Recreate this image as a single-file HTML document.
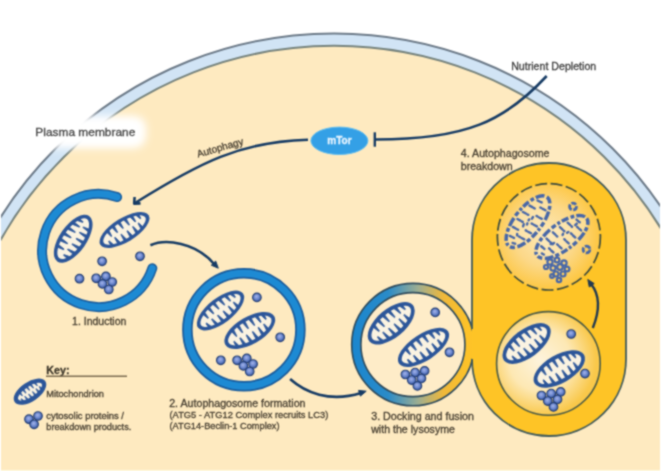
<!DOCTYPE html>
<html><head><meta charset="utf-8">
<style>
html,body{margin:0;padding:0;background:#fff;}
body{width:663px;height:471px;overflow:hidden;}
svg{display:block;}
text{font-family:"Liberation Sans",sans-serif;stroke:currentColor;stroke-width:0.3px;}
</style></head>
<body>
<svg width="663" height="471" viewBox="0 0 663 471">
<defs>
  <radialGradient id="dotg" cx="45%" cy="40%" r="60%">
    <stop offset="0" stop-color="#a3b3ea"/>
    <stop offset="0.55" stop-color="#6a86cc"/>
    <stop offset="1" stop-color="#3a58a0"/>
  </radialGradient>
  <g id="dot"><circle r="4.3" fill="url(#dotg)" stroke="#203c74" stroke-width="1.1"/></g>
  <g id="c5">
    <use href="#dot" x="0" y="0"/><use href="#dot" x="9.7" y="-1.9"/>
    <use href="#dot" x="6.3" y="5.6"/><use href="#dot" x="16" y="3.7"/>
    <use href="#dot" x="12.6" y="11.2"/>
  </g>
  <g id="c6">
    <use href="#dot" x="0" y="0"/><use href="#dot" x="9.7" y="-1.9"/><use href="#dot" x="19.2" y="-3.6"/>
    <use href="#dot" x="6.3" y="5.6"/><use href="#dot" x="16" y="3.9"/>
    <use href="#dot" x="12" y="11.4"/>
  </g>
  <g id="mito">
    <ellipse rx="28.3" ry="12.2" fill="#2c5699"/>
    <ellipse rx="24.4" ry="8.8" fill="#faf3e2"/>
    <path fill="#2c5699" stroke="#2c5699" stroke-width="0.7" stroke-linejoin="round" d="M-16.5,-7.9 L-13.5,-7.9 L-14.0,-1.4 L-14.8,-1.4Z M-9.5,-9.3 L-6.5,-9.3 L-7.0,-1.7 L-7.8,-1.7Z M-2.5,-9.8 L0.5,-9.8 L0.0,-2.2 L-0.8,-2.2Z M4.5,-9.5 L7.5,-9.5 L7.0,-1.9 L6.2,-1.9Z M11.5,-8.4 L14.5,-8.4 L14.0,-1.4 L13.2,-1.4Z M17.5,-6.5 L20.5,-6.5 L20.0,-1.4 L19.2,-1.4Z M-20.0,6.7 L-17.0,6.7 L-18.7,1.4 L-19.5,1.4Z M-13.0,8.8 L-10.0,8.8 L-11.7,1.4 L-12.5,1.4Z M-6.0,9.6 L-3.0,9.6 L-4.7,2.0 L-5.5,2.0Z M1.0,9.8 L4.0,9.8 L2.3,2.2 L1.5,2.2Z M8.0,9.1 L11.0,9.1 L9.3,1.5 L8.5,1.5Z M14.5,7.6 L17.5,7.6 L15.8,1.4 L15.0,1.4Z"/>
  </g>
  <linearGradient id="dockg" x1="351" y1="0" x2="474" y2="0" gradientUnits="userSpaceOnUse">
    <stop offset="0" stop-color="#1a86cf"/>
    <stop offset="0.3" stop-color="#2a8bc8"/>
    <stop offset="0.55" stop-color="#9fae90"/>
    <stop offset="0.75" stop-color="#efb83a"/>
    <stop offset="0.95" stop-color="#fdc228"/>
    <stop offset="1" stop-color="#fec426"/>
  </linearGradient>
  <radialGradient id="lowg" cx="540" cy="360" r="56" gradientUnits="userSpaceOnUse">
    <stop offset="0" stop-color="#fdf3dc"/>
    <stop offset="0.55" stop-color="#fde8b4"/>
    <stop offset="1" stop-color="#f9c84a"/>
  </radialGradient>
  <radialGradient id="upg" cx="545" cy="235" r="56" gradientUnits="userSpaceOnUse">
    <stop offset="0" stop-color="#fde9b8"/>
    <stop offset="0.55" stop-color="#fcd888"/>
    <stop offset="1" stop-color="#fdc63e"/>
  </radialGradient>
  <filter id="soft" x="0" y="0" width="663" height="471" filterUnits="userSpaceOnUse" color-interpolation-filters="sRGB"><feConvolveMatrix order="3" kernelMatrix="1 2 1 2 6 2 1 2 1" divisor="18" edgeMode="duplicate"/></filter>
  <filter id="blur4" x="-30%" y="-60%" width="160%" height="220%"><feGaussianBlur stdDeviation="4"/></filter>
  <clipPath id="frame"><rect x="1" y="0" width="659" height="470"/></clipPath>
  <clipPath id="leftof472"><rect x="0" y="0" width="472" height="471"/></clipPath>
</defs>
<g filter="url(#soft)">

<rect width="663" height="471" fill="#fff"/>
<!-- cell -->
<g clip-path="url(#frame)">
  <ellipse cx="334.1" cy="425.2" rx="393.5" ry="391.7" fill="#d1e4f5" stroke="#6c7a88" stroke-width="2"/>
  <ellipse cx="334.1" cy="425.2" rx="382.1" ry="379.4" fill="#feeac0" stroke="#75827c" stroke-width="2"/>
</g>

<rect x="1" y="470" width="659" height="1" fill="#fffbe4"/>
<!-- plasma membrane label halo -->
<rect x="26" y="116" width="120" height="32" rx="12" fill="#fff" filter="url(#blur4)"/>
<rect x="33" y="122" width="106" height="20" rx="8" fill="#fff" filter="url(#blur4)"/>
<text style="color:#444" x="35.3" y="135.9" font-size="11.8" fill="#444" textLength="100" lengthAdjust="spacingAndGlyphs">Plasma membrane</text>

<!-- nutrient depletion -->
<text style="color:#3c3c3c" x="511.2" y="70.2" font-size="10.6" fill="#3c3c3c" textLength="85" lengthAdjust="spacingAndGlyphs">Nutrient Depletion</text>
<path d="M546.7,76 C505,121 466,139.5 376,139.5" fill="none" stroke="#163b64" stroke-width="2.6"/>
<line x1="374.8" y1="132.3" x2="374.8" y2="146.7" stroke="#163b64" stroke-width="2.4"/>

<!-- mTor -->
<ellipse cx="339.4" cy="140.8" rx="28.5" ry="13.7" fill="#34a0e6" stroke="#5cbcf2" stroke-width="1"/>
<text style="color:#eaf5ff" x="339.4" y="144" font-size="10" font-weight="bold" fill="#eaf5ff" text-anchor="middle">mTor</text>

<!-- autophagy arrow -->
<path d="M308,139.7 C240.7,141.5 199.8,162.5 135,203" fill="none" stroke="#163b64" stroke-width="2.6"/>
<path d="M134.6,197 L134.2,203.6 L140.5,203.4" fill="none" stroke="#163b64" stroke-width="2.6" stroke-linejoin="round"/>
<text style="color:#463e30" transform="translate(198,157.5) rotate(-16)" font-size="10" fill="#463e30">Autophagy</text>

<!-- 1. induction -->
<path d="M117.1,197.1 A56.5,56.5 0 1 0 152.3,268.3" fill="none" stroke="#1a5c9c" stroke-width="10" stroke-linecap="round"/>
<path d="M117.1,197.1 A56.5,56.5 0 1 0 152.3,268.3" fill="none" stroke="#1d8ad3" stroke-width="7" stroke-linecap="round"/>
<use href="#mito" transform="translate(73.2,238.7) rotate(-55) scale(0.98,1.1)"/>
<use href="#mito" transform="translate(124.5,230) rotate(-31.5) scale(1,0.98)"/>
<use href="#dot" x="102.1" y="261.3"/>
<use href="#dot" x="140" y="256.3"/>
<use href="#dot" x="79.5" y="278.7"/>
<use href="#c5" x="96.2" y="278.3"/>
<text style="color:#463e30" x="72.1" y="325.4" font-size="10.5" fill="#463e30">1. Induction</text>

<!-- arrow 1->2 -->
<path d="M150.4,245.3 C165,238.5 196,242 214.5,264.5" fill="none" stroke="#163b64" stroke-width="2.6"/>
<path d="M218.3,268.2 L211.3,265.2 L215.7,261.1 Z" fill="#163b64" stroke="#163b64" stroke-width="1" stroke-linejoin="round"/>

<!-- 2. autophagosome -->
<circle cx="243.9" cy="329.8" r="56.5" fill="none" stroke="#1a5c9c" stroke-width="10.5"/>
<circle cx="243.9" cy="329.8" r="56.5" fill="none" stroke="#1d8ad3" stroke-width="7"/>
<use href="#mito" transform="translate(220.5,310.5) rotate(-37.7) scale(1,1.03)"/>
<use href="#mito" transform="translate(249.8,330.5) rotate(-30.2) scale(1,1.12)"/>
<use href="#dot" x="256.9" y="297.4"/>
<use href="#dot" x="280.2" y="337.3"/>
<use href="#dot" x="220.8" y="360.3"/>
<use href="#c5" x="237.1" y="360.3"/>
<text style="color:#463e30" x="169.2" y="406.8" font-size="10.6" fill="#463e30" textLength="136.3" lengthAdjust="spacingAndGlyphs">2. Autophagosome formation</text>
<text style="color:#463e30" x="169.5" y="417.9" font-size="9.3" fill="#463e30" textLength="158.8" lengthAdjust="spacingAndGlyphs">(ATG5 - ATG12 Complex recruits LC3)</text>
<text style="color:#463e30" x="169.5" y="429" font-size="9.2" fill="#463e30" textLength="110" lengthAdjust="spacingAndGlyphs">(ATG14-Beclin-1 Complex)</text>

<!-- arrow 2->3 -->
<path d="M290.1,379 C305,392.3 329.2,402.8 361,393" fill="none" stroke="#163b64" stroke-width="2.6"/>
<path d="M366.2,391.2 L360.4,396.1 L358.6,390.4 Z" fill="#163b64" stroke="#163b64" stroke-width="1" stroke-linejoin="round"/>

<!-- lysosome -->
<path d="M472,240 A77,77 0 0 1 626,240 L626,359 A77,77 0 0 1 472,359 Z" fill="#fec426"/>

<!-- 3. docking -->
<circle cx="412.9" cy="344.6" r="56.6" fill="#feecc8"/>
<circle cx="412.9" cy="344.6" r="56.6" fill="none" stroke="url(#dockg)" stroke-width="9"/>
<circle cx="412.9" cy="344.6" r="52" fill="none" stroke="#2d4a5c" stroke-width="1.6"/>
<circle cx="412.9" cy="344.6" r="61.2" fill="none" stroke="#2d4a5c" stroke-width="1.6" clip-path="url(#leftof472)"/>
<path d="M472,359 L472,359 A77,77 0 0 0 626,359 L626,240 A77,77 0 0 0 472,240 L472,329" fill="none" stroke="#405a5a" stroke-width="1.8"/>
<use href="#mito" transform="translate(391.2,323.3) rotate(-40) scale(1,1.17)"/>
<use href="#mito" transform="translate(423.5,347.4) rotate(-33.4) scale(1.04,1.08)"/>
<use href="#dot" x="435.2" y="312.4"/>
<use href="#dot" x="449.5" y="352.3"/>
<use href="#c6" x="405.4" y="374.5"/>
<text style="color:#463e30" x="371.2" y="420.4" font-size="10.65" fill="#463e30" textLength="102.8" lengthAdjust="spacingAndGlyphs">3. Docking and fusion</text>
<text style="color:#463e30" x="371.2" y="432.5" font-size="10.6" fill="#463e30" textLength="83.8" lengthAdjust="spacingAndGlyphs">with the lysosyme</text>

<!-- lower circle in lysosome -->
<circle cx="548.4" cy="363.4" r="51.8" fill="url(#lowg)" stroke="#4a5a45" stroke-width="1.6"/>
<use href="#mito" transform="translate(526.6,343.5) rotate(-37) scale(1,1.15)"/>
<use href="#mito" transform="translate(559.3,369) rotate(-30) scale(1.01,1.15)"/>
<use href="#dot" x="571.2" y="334"/>
<use href="#dot" x="585" y="373.6"/>
<use href="#c6" x="541.5" y="395.5"/>

<!-- upper dashed circle -->
<ellipse cx="548.9" cy="236.8" rx="51.5" ry="53.2" fill="url(#upg)" stroke="#3c4a3c" stroke-width="1.7" stroke-dasharray="12 3.5"/>
<g fill="none" stroke="#4767a8" stroke-linecap="round">
  <ellipse rx="31" ry="13.5" transform="translate(528,221.6) rotate(-52)" fill="#fdeec8" fill-opacity="0.45" stroke-width="3.5" stroke-linecap="butt" stroke-dasharray="7 2.4 4 2 9 2.6 5 2.2 3 2"/>
  <path transform="translate(528,221.6) rotate(-52)" stroke-width="2.4" d="M-22.5,-5.5 L-21.9,-3.0 M-21.7,-1.7 L-21.5,-1.0 M-25.3,3.5 L-25.9,2.2 M-26.1,1.5 L-26.3,1.0 M-13.5,-8.7 L-12.9,-5.4 M-12.7,-3.6 L-12.5,-2.7 M-16.3,8.0 L-16.9,5.0 M-17.1,3.2 L-17.3,2.0 M-4.5,-9.9 L-3.9,-6.6 M-3.7,-4.8 L-3.5,-3.9 M-7.3,9.6 L-7.9,6.6 M-8.1,4.8 L-8.3,3.6 M4.5,-9.9 L5.1,-6.6 M5.3,-4.8 L5.5,-3.9 M1.7,10.0 L1.1,7.0 M0.9,5.2 L0.7,4.0 M13.5,-8.7 L14.1,-5.4 M14.3,-3.6 L14.5,-2.7 M10.7,9.2 L10.1,6.2 M9.9,4.4 L9.7,3.2 M22.5,-5.5 L23.1,-3.0 M23.3,-1.7 L23.5,-1.0 M19.7,6.8 L19.1,3.9 M18.9,2.2 L18.7,1.0 M-6.7,-1.0 l2.0,-0.7 M1.4,-0.4 l1.1,0.0 M-17.5,-0.2 l1.1,-0.7 M-2.9,1.0 l1.2,-0.4 M4.8,1.3 l1.9,-0.2"/>
  <ellipse rx="31" ry="13.2" transform="translate(561.9,237) rotate(-37)" fill="#fdeec8" fill-opacity="0.45" stroke-width="3.5" stroke-linecap="butt" stroke-dasharray="7 2.4 4 2 9 2.6 5 2.2 3 2"/>
  <path transform="translate(561.9,237) rotate(-37)" stroke-width="2.4" d="M-22.1,-5.1 L-21.5,-2.8 M-21.3,-1.6 L-21.1,-1.0 M-24.9,3.2 L-25.5,2.1 M-25.7,1.4 L-25.9,1.0 M-13.2,-8.0 L-12.7,-4.7 M-12.4,-2.9 L-12.2,-2.0 M-16.1,7.3 L-16.7,4.3 M-16.9,2.5 L-17.1,1.3 M-4.4,-9.1 L-3.8,-5.8 M-3.6,-4.0 L-3.4,-3.1 M-7.2,8.9 L-7.8,5.9 M-8.0,4.1 L-8.2,2.9 M4.4,-9.1 L5.0,-5.8 M5.2,-4.0 L5.4,-3.1 M1.6,9.2 L1.0,6.2 M0.8,4.4 L0.6,3.2 M13.2,-8.0 L13.8,-4.7 M14.1,-2.9 L14.2,-2.0 M10.4,8.5 L9.8,5.5 M9.6,3.7 L9.4,2.5 M22.1,-5.1 L22.7,-2.8 M22.9,-1.6 L23.1,-1.0 M19.3,6.3 L18.7,3.7 M18.5,2.1 L18.3,1.0 M17.7,-1.4 l2.3,-0.3 M-13.2,-1.1 l1.5,0.5 M-11.8,0.2 l2.0,-0.2 M1.8,-1.3 l1.1,-0.5 M6.7,-0.2 l1.5,0.1"/>
  <circle cx="573" cy="206.5" r="3.4" stroke-width="2.8" stroke-linecap="butt" stroke-dasharray="5 1.5 6 1.5"/>
  <circle cx="586.5" cy="249.5" r="3.4" stroke-width="2.8" stroke-linecap="butt" stroke-dasharray="6 1.5 5 1.5"/>
  <g stroke-width="2.2">
  <circle cx="550" cy="262" r="2.6"/><circle cx="557" cy="260" r="2.4"/><circle cx="564" cy="263" r="2.6"/>
  <circle cx="553" cy="268" r="2.6"/><circle cx="560" cy="267" r="2.8"/><circle cx="567" cy="269" r="2.4"/>
  <circle cx="556" cy="274" r="2.5"/><circle cx="563" cy="274" r="2.5"/><circle cx="559" cy="280" r="2.2"/>
  <circle cx="546" cy="267" r="2"/><circle cx="552" cy="276" r="1.8"/>
  </g>
</g>

<!-- arrow lower->upper -->
<path d="M592.8,328 C600,310 600,295 591,284" fill="none" stroke="#223a50" stroke-width="2.4"/>
<path d="M587.8,279.5 L594.2,283.6 L589.3,287.0 Z" fill="#223a50" stroke="#223a50" stroke-width="1" stroke-linejoin="round"/>

<text style="color:#463e30" x="460.8" y="157.4" font-size="10.6" fill="#463e30" textLength="88.7" lengthAdjust="spacingAndGlyphs">4. Autophagosome</text>
<text style="color:#463e30" x="460.8" y="169.8" font-size="10.6" fill="#463e30">breakdown</text>

<!-- key -->
<text style="color:#3a3428" x="46.3" y="373.6" font-size="10.7" font-weight="bold" fill="#3a3428">Key:</text>
<line x1="46" y1="376.3" x2="127" y2="376.3" stroke="#7a6a50" stroke-width="1.5"/>
<g transform="translate(30,391.7) rotate(-34)"><ellipse rx="18.5" ry="9.7" fill="#2c5699"/><ellipse rx="14" ry="5.2" fill="#faf3e2"/><path fill="#2c5699" stroke="#2c5699" stroke-width="0.5" d="M-10.0,-4.8 L-8.0,-4.8 L-8.4,-0.9 L-8.9,-0.9Z M-5.5,-5.7 L-3.5,-5.7 L-3.9,-1.1 L-4.4,-1.1Z M-1.0,-6.0 L1.0,-6.0 L0.6,-1.4 L0.1,-1.4Z M3.5,-5.7 L5.5,-5.7 L5.1,-1.1 L4.6,-1.1Z M8.0,-4.8 L10.0,-4.8 L9.6,-0.9 L9.1,-0.9Z M-12.0,4.0 L-10.0,4.0 L-11.1,0.9 L-11.6,0.9Z M-7.5,5.4 L-5.5,5.4 L-6.6,0.9 L-7.1,0.9Z M-3.0,5.9 L-1.0,5.9 L-2.1,1.3 L-2.6,1.3Z M1.5,5.9 L3.5,5.9 L2.4,1.3 L1.9,1.3Z M6.0,5.3 L8.0,5.3 L6.9,0.9 L6.4,0.9Z M10.0,4.0 L12.0,4.0 L10.9,0.9 L10.4,0.9Z"/></g>
<text style="color:#463e30" x="46.3" y="396.6" font-size="9.2" fill="#463e30" textLength="57.6" lengthAdjust="spacingAndGlyphs">Mitochondrion</text>
<use href="#dot" x="29" y="419.2"/>
<use href="#dot" x="38" y="416"/>
<use href="#dot" x="34.1" y="424.3"/>
<text style="color:#463e30" x="46.3" y="419.4" font-size="9.2" fill="#463e30" textLength="77.7" lengthAdjust="spacingAndGlyphs">cytosolic proteins /</text>
<text style="color:#463e30" x="46.3" y="430" font-size="9.2" fill="#463e30" textLength="85" lengthAdjust="spacingAndGlyphs">breakdown products.</text>
</g>
</svg>
</body></html>
